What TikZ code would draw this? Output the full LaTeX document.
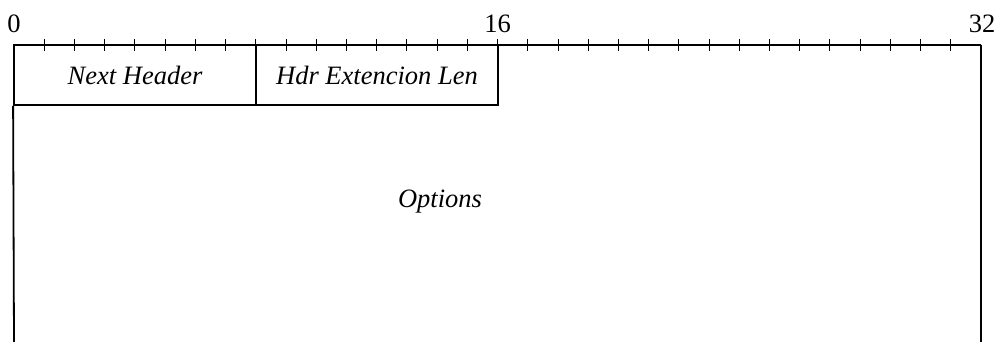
\documentclass[tikz,border=0pt]{standalone}
\usepackage{fontspec}
\setmainfont{Liberation Serif}
\begin{document}
\begin{tikzpicture}[x=1pt,y=-1pt,
  frame/.style={line width=1.8pt},
  tickline/.style={line width=0.9pt},
  field/.style={draw,line width=1.8pt,inner sep=0pt,font=\fontsize{26.5}{30}\selectfont\itshape},
  numlabel/.style={inner sep=0pt,anchor=base,font=\fontsize{26.5}{30}\selectfont},
  txt/.style={inner sep=0pt,font=\fontsize{26.5}{30}\selectfont\itshape}]
\useasboundingbox (0,0) rectangle (999,342);
% ruler
\coordinate (r0) at (14,45);
\coordinate (r32) at (981,45);
\draw[frame] (r0) -- (r32);
\foreach \i in {1,...,31} {
  \draw[tickline] (14+\i*30.22,39) -- (14+\i*30.22,51);
}
\node[numlabel] (n0) at (14,33) {0};
\node[numlabel] (n16) at (497.5,33) {16};
\node[numlabel] (n32) at (982,33) {32};
% fields
\node[field,minimum width=242pt,minimum height=60pt] (nh) at (135,75) {Next Header};
\node[field,minimum width=242pt,minimum height=60pt] (hdr) at (377,75) {Hdr Extencion Len};
% options region
\coordinate (ol) at (14,342);
\coordinate (or) at (981,342);
\draw[frame] (nh.south west) -- (ol);
\draw[frame] (r32) -- (or);
\node[txt] (opt) at (440,202) {Options};
\end{tikzpicture}
\end{document}
